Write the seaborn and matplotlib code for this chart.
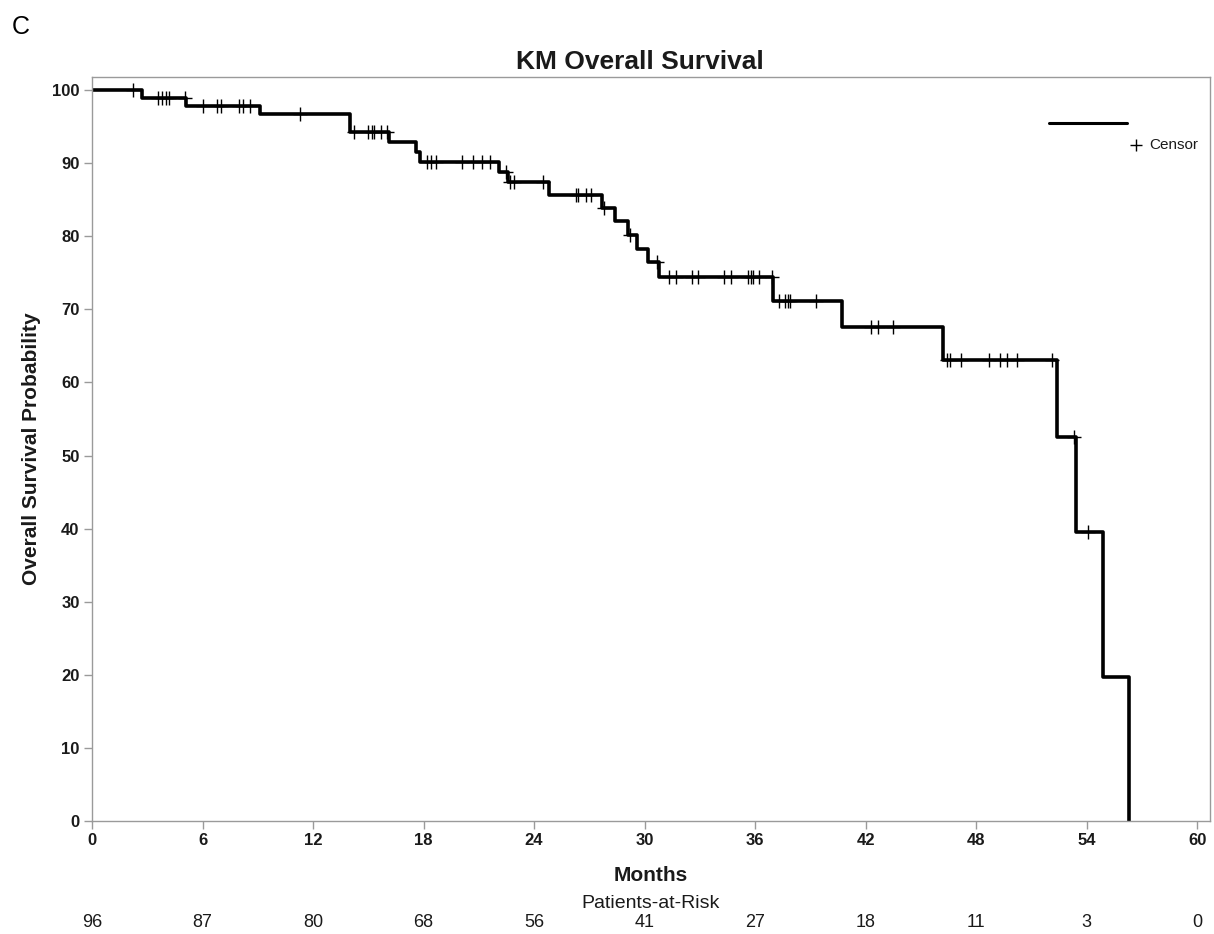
import numpy as np
import pandas as pd
import matplotlib
matplotlib.use("Agg")
import matplotlib.pyplot as plt
from matplotlib import font_manager
from matplotlib.lines import Line2D
import seaborn as sns

# Kaplan-Meier step curve: event times (months) and survival (%) after each step
event_months = [0, 2.7, 5.1, 9.1, 14.0, 16.1, 17.6, 17.8, 22.1, 22.6, 24.8, 27.7,
                28.4, 29.1, 29.6, 30.2, 30.8, 37.0, 40.7, 46.2, 52.4, 53.4, 54.9, 56.3]
survival_pct = [100, 98.9, 97.8, 96.7, 94.3, 92.9, 91.6, 90.2, 88.8, 87.4, 85.6, 83.9,
                82.1, 80.2, 78.2, 76.5, 74.4, 71.2, 67.6, 63.1, 52.5, 39.5, 19.7, 0]

# Censored observations (months)
censor_months = [2.2, 3.6, 3.8, 4.0, 4.2, 5.05, 6.0, 6.8, 7.0, 8.0, 8.2, 8.6, 11.3,
                 14.2, 15.0, 15.2, 15.3, 15.7, 16.0, 18.2, 18.4, 18.7, 20.1, 20.7,
                 21.2, 21.6, 22.5, 22.7, 22.9, 24.5, 26.3, 26.4, 26.8, 27.1, 27.8,
                 29.2, 30.7, 31.3, 31.7, 32.6, 32.9, 34.3, 34.7, 35.6, 35.8, 35.9,
                 36.2, 36.9, 37.3, 37.6, 37.8, 37.9, 39.3, 42.3, 42.7, 43.5, 46.4,
                 46.6, 47.2, 48.7, 49.3, 49.7, 50.2, 52.1, 53.3, 54.1]

# Number at risk
risk_months = [0, 6, 12, 18, 24, 30, 36, 42, 48, 54, 60]
at_risk = [96, 87, 80, 68, 56, 41, 27, 18, 11, 3, 0]

sns.set_theme(style="white")
names = {f.name for f in font_manager.fontManager.ttflist}
base_font = "Liberation Sans" if "Liberation Sans" in names else "DejaVu Sans"
plt.rcParams["font.family"] = [base_font, "DejaVu Sans"]
TXT = "#1a1a1a"

curve = pd.DataFrame({"month": event_months, "surv": survival_pct})
ev = np.array(event_months)
sv = np.array(survival_pct)
cens_surv = [sv[np.searchsorted(ev, t, side="right") - 1] for t in censor_months]
cens = pd.DataFrame({"month": censor_months, "surv": cens_surv})

fig = plt.figure(figsize=(12.14, 9.34), dpi=100)
ax = fig.add_axes([0.0758, 0.121, 0.9209, 0.7966])

sns.lineplot(data=curve, x="month", y="surv", ax=ax, color="black",
             linewidth=2.6, drawstyle="steps-post", estimator=None, sort=False)
sns.scatterplot(data=cens, x="month", y="surv", ax=ax, marker="+", s=110,
                color="black", linewidth=1.0, zorder=5)

ax.set_xlim(0, 60.7)
ax.set_ylim(0, 101.8)
ax.set_xticks(risk_months)
ax.set_yticks(range(0, 101, 10))
for sp in ax.spines.values():
    sp.set_color("#9a9a9a")
    sp.set_linewidth(1.0)
ax.tick_params(axis="both", which="major", bottom=True, left=True,
               direction="out", length=6, width=1, color="#9a9a9a", pad=3,
               labelsize=12, labelcolor=TXT)
for lab in ax.get_xticklabels() + ax.get_yticklabels():
    lab.set_fontweight("bold")

ax.set_xlabel("")
ax.set_ylabel("Overall Survival Probability", fontsize=15, fontweight="bold",
              color=TXT, labelpad=8)
fig.text(0.527, 0.934, "KM Overall Survival", fontsize=19, fontweight="bold",
         color=TXT, ha="center", va="center")

# Axis label and at-risk table beneath the axis
ax.text(0.5, -0.073, "Months", transform=ax.transAxes, ha="center", va="center",
        fontsize=15, fontweight="bold", color=TXT)
ax.text(0.5, -0.111, "Patients-at-Risk", transform=ax.transAxes, ha="center",
        va="center", fontsize=14, color=TXT)
for m, n in zip(risk_months, at_risk):
    ax.text(m, -0.136, str(n), transform=ax.get_xaxis_transform(), ha="center",
            va="center", fontsize=13, color=TXT)

# Legend: curve swatch with the censor symbol beneath
ax.add_line(Line2D([0.8559, 0.9257], [0.938, 0.938], transform=ax.transAxes,
                   color="black", linewidth=2.2))
ax.plot([0.9337], [0.908], transform=ax.transAxes, marker="+", markersize=9,
        markeredgewidth=1.0, color="black", linestyle="none")
ax.text(0.946, 0.908, "Censor", transform=ax.transAxes, ha="left", va="center",
        fontsize=11, color=TXT)

fig.text(0.010, 0.971, "C", fontsize=18, color="black", ha="left", va="center")

fig.savefig("out.png", dpi=100, facecolor="white")
